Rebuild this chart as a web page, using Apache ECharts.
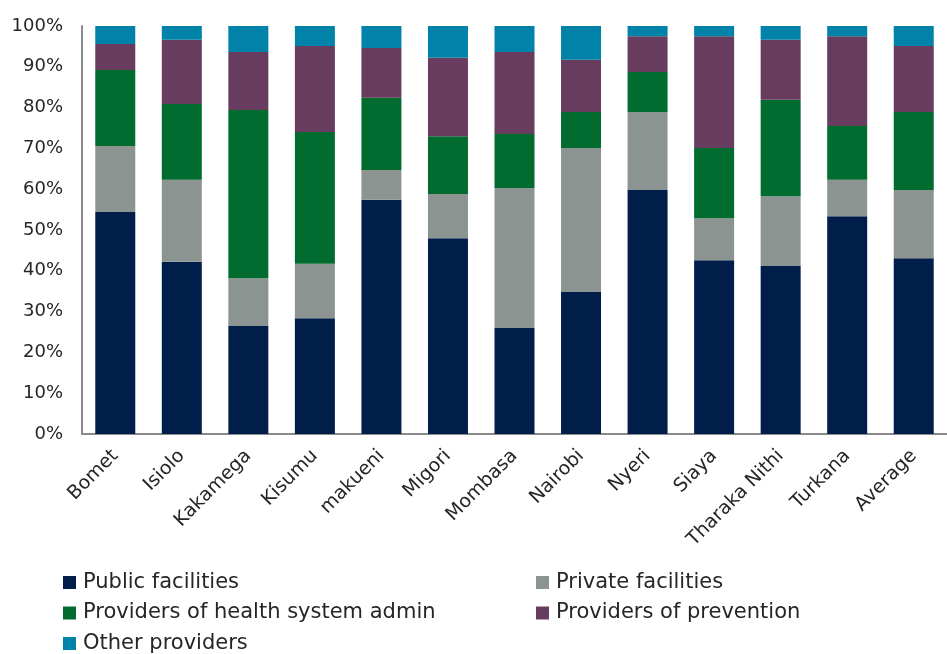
<!DOCTYPE html>
<html>
<head>
<meta charset="utf-8">
<script src="https://cdn.jsdelivr.net/npm/echarts@6/dist/echarts.min.js"></script>
<style>html,body{margin:0;padding:0;background:#fff;}#c{width:947px;height:654px;}</style>
</head>
<body>
<div id="c"></div>
<script>
var categories = ['Bomet','Isiolo','Kakamega','Kisumu','makueni','Migori','Mombasa','Nairobi','Nyeri','Siaya','Tharaka Nithi','Turkana','Average'];
var publicFacilities  = [54.4, 42.2, 26.5, 28.4, 57.4, 48.0, 26.0, 34.8, 59.8, 42.6, 41.2, 53.4, 43.1];
var privateFacilities = [16.2, 20.1, 11.7, 13.3,  7.3, 10.8, 34.3, 35.3, 19.1, 10.3, 17.1,  8.9, 16.7];
var healthSystemAdmin = [18.6, 18.6, 41.2, 32.3, 17.7, 14.2, 13.2,  8.8,  9.8, 17.2, 23.6, 13.2, 19.1];
var prevention        = [ 6.4, 15.7, 14.2, 21.1, 12.2, 19.2, 20.1, 12.8,  8.8, 27.4, 14.7, 22.0, 16.2];
var otherProviders    = [ 4.4,  3.4,  6.4,  4.9,  5.4,  7.8,  6.4,  8.3,  2.5,  2.5,  3.4,  2.5,  4.9];
var yTicks = [0,10,20,30,40,50,60,70,80,90,100];

var FONT = '"DejaVu Sans", sans-serif';
var seriesDefs = [
  {name:'Public facilities', data: publicFacilities, color:'#011E4B'},
  {name:'Private facilities', data: privateFacilities, color:'#8C9491'},
  {name:'Providers of health system admin', data: healthSystemAdmin, color:'#016B30'},
  {name:'Providers of prevention', data: prevention, color:'#673C5E'},
  {name:'Other providers', data: otherProviders, color:'#0182A8'}
];
var chart = echarts.init(document.getElementById('c'), null, {renderer:'canvas'});
var legendText = {fontFamily: FONT, fontSize: 21, color:'#262626', lineHeight: 21, padding:[0,0,0,2]};
chart.setOption({
  animation:false,
  backgroundColor:'#fff',
  grid:{left:82, top:26, width:882, height:408, containLabel:false},
  legend:[
    {orient:'vertical', left:63, top:572, padding:0, itemWidth:13, itemHeight:13, itemGap:9.5, icon:'rect',
     data:['Public facilities','Providers of health system admin','Other providers'], textStyle:legendText},
    {orient:'vertical', left:536, top:572, padding:0, itemWidth:13, itemHeight:13, itemGap:9.5, icon:'rect',
     data:['Private facilities','Providers of prevention'], textStyle:legendText}
  ],
  xAxis:{type:'category', data:categories,
    axisLine:{lineStyle:{color:'#8a8a8a', width:2}},
    axisTick:{show:false},
    axisLabel:{interval:0, rotate:45, margin:19, fontFamily:FONT, fontSize:19, color:'#262626'}
  },
  yAxis:{type:'value', min:yTicks[0], max:yTicks[yTicks.length-1], interval:10,
    axisLine:{show:true, lineStyle:{color:'#8a8a8a', width:2}},
    axisTick:{show:false},
    splitLine:{show:false},
    axisLabel:{formatter:'{value}%', margin:19, fontFamily:FONT, fontSize:18, color:'#262626'}
  },
  series: seriesDefs.map(function(s){
    return {name:s.name, type:'bar', stack:'total', data:s.data, barWidth:40,
      itemStyle:{color:s.color}, emphasis:{disabled:true}};
  })
});
</script>
</body>
</html>
